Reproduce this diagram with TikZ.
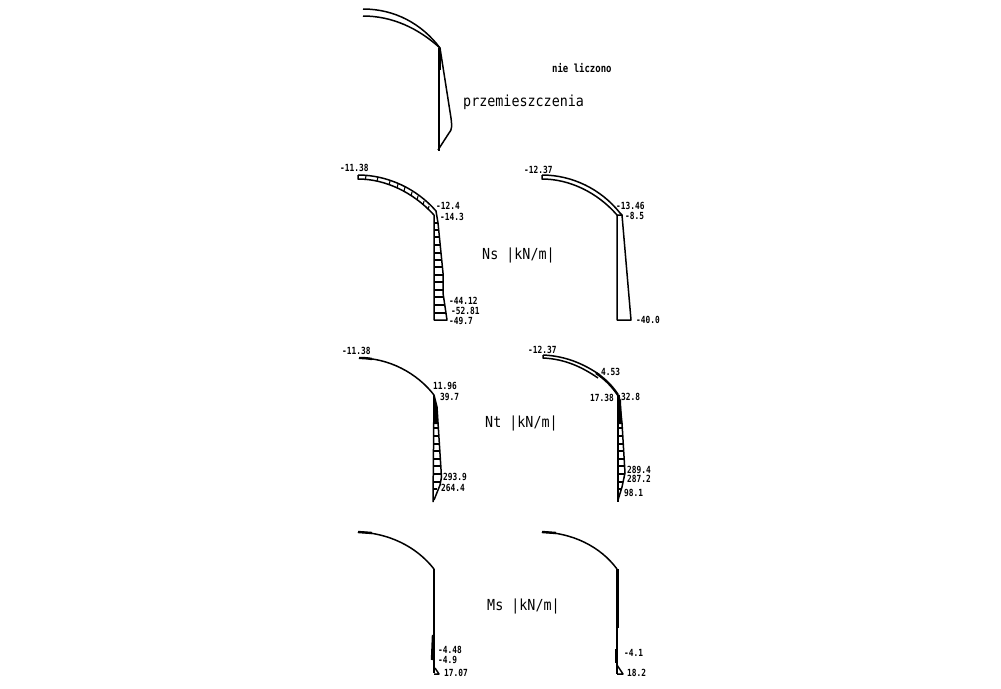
\documentclass[tikz,border=0pt]{standalone}
\usepackage{fontspec}
\newfontfamily\cad[FakeStretch=0.88]{DejaVu Sans Mono}
\newfontfamily\cadsmall[FakeStretch=0.8]{DejaVu Sans Mono Bold}
\tikzset{
  curve/.style={line width=1.5pt,black,line join=round},
  thick curve/.style={line width=2.4pt,black,line join=round},
  tickline/.style={line width=1.1pt,black},
  small/.style={anchor=west,inner sep=0pt,font=\cadsmall\fontsize{9.8}{10}\selectfont},
  big/.style={anchor=west,inner sep=0pt,font=\cad\fontsize{15.2}{17}\selectfont},
  tiny/.style={anchor=west,inner sep=0pt,font=\cadsmall\fontsize{11.2}{12}\selectfont},
}
\begin{document}
\begin{tikzpicture}[x=1pt,y=-1pt]
\useasboundingbox (0,0) rectangle (1001,688);
% displacement
\draw[curve] (363,9) .. controls (395,9) and (422,24) .. (440,48);
\draw[curve] (363,16) .. controls (392,16) and (418,28) .. (440,48);
\draw[curve] (439,48) -- (439,151);
\draw[curve] (440,48) -- (451,118) .. controls (452,126) and (452,130) .. (449,133) -- (438,150);
\draw[thick curve] (440,48) -- (440,70);
\node[big] (disp) at (463,102) {przemieszczenia};
\node[tiny] (none) at (552,68) {nie liczono};
% Ns left
\draw[curve] (358,175) .. controls (388,175) and (417,189) .. (436,211) -- (438,223) -- (443,273) -- (443,293) -- (447,320) -- (434,320) -- (434,215);
\draw[curve] (358,175) -- (358,179) .. controls (385,179) and (413,192) .. (434,215);
\foreach \y/\x in {223/438,230/439,237/440,245/441,253/441,260/442,267/443,275/443,282/443,290/443,297/444,305/445,313/446}
  \draw[tickline] (434,\y) -- (\x,\y);
\foreach \a/\b in {366/176,378/177,390/181,398/184,405/187,412/192,418/196,424/201,429/206} \draw[tickline] (\a,\b) -- ++(-1,4);
\node[small] (a1) at (340,168) {-11.38};
\node[small] (a2) at (436,206) {-12.4};
\node[small] (a3) at (440,217) {-14.3};
\node[small] (a4) at (449,301) {-44.12};
\node[small] (a5) at (451,311) {-52.81};
\node[small] (a6) at (449,321) {-49.7};
\node[big] (ns) at (482,255) {Ns |kN/m|};
% Ns right
\draw[curve] (542,175) .. controls (572,175) and (601,189) .. (620,213) -- (622,215) -- (631,320) -- (617,320) -- (617,215);
\draw[curve] (542,175) -- (542,179) .. controls (569,179) and (597,192) .. (617,215) -- (622,215);
\node[small] (b1) at (524,170) {-12.37};
\node[small] (b2) at (616,206) {-13.46};
\node[small] (b3) at (625,216) {-8.5};
\node[small] (b4) at (636,320) {-40.0};
% Nt left
\draw[thick curve] (359,358) .. controls (362,358) and (366,358) .. (372,359);
\draw[curve] (359,358) .. controls (389,358) and (417,373) .. (434,395);
\draw[curve] (434,395) -- (433,502);
\fill (434,395) -- (437,407) -- (438,424) -- (434,424) -- cycle;
\draw[curve] (434,395) -- (437,407) -- (441.5,477) -- (440,485) -- (434,500);
\foreach \y/\x in {428/438,436/439,444/440,451/440,459/441,466/441,474/441,482/440,489/437}
  \draw[tickline] (434,\y) -- (\x,\y);
\node[small] (c1) at (342,351) {-11.38};
\node[small] (c2) at (433,386) {11.96};
\node[small] (c3) at (440,397) {39.7};
\node[small] (c4) at (443,477) {293.9};
\node[small] (c5) at (441,488) {264.4};
\node[big] (nt) at (485,423) {Nt |kN/m|};
% Nt right
\draw[curve] (543,355) .. controls (566,356) and (584,364) .. (600,375);
\draw[curve] (543,355) -- (543,358) .. controls (565,359) and (582,367) .. (598,378);
\draw[thick curve] (596,373) .. controls (605,379) and (612,386) .. (618,395);
\fill (617,395) -- (621,400) -- (622,424) -- (617,424) -- cycle;
\draw[curve] (618,395) -- (618,502);
\draw[curve] (619,395) -- (622,423) -- (625,473) -- (622,487) -- (618,500);
\foreach \y/\x in {428/622,436/623,444/623,451/624,459/624,466/625,474/625,482/623,489/621}
  \draw[tickline] (618,\y) -- (\x,\y);
\node[small] (d1) at (528,350) {-12.37};
\node[small] (d2) at (601,372) {4.53};
\node[small] (d3) at (590,398) {17.38};
\node[small] (d4) at (621,397) {32.8};
\node[small] (d5) at (627,470) {289.4};
\node[small] (d6) at (627,479) {287.2};
\node[small] (d7) at (624,493) {98.1};
% Ms left
\draw[thick curve] (358,532) -- (372,533);
\draw[curve] (358,532) .. controls (388,533) and (416,546) .. (434,569);
\draw[curve] (434,569) -- (434,673);
\draw[thick curve] (433,635) -- (432,660);
\draw[curve] (435,668) -- (439,674) -- (434,674);
\node[small] (e1) at (438,650) {-4.48};
\node[small] (e2) at (438,660) {-4.9};
\node[small] (e3) at (444,673) {17.07};
\node[big] (ms) at (487,606) {Ms |kN/m|};
% Ms right
\draw[thick curve] (542,532) -- (556,533);
\draw[curve] (542,532) .. controls (572,533) and (600,546) .. (617,569);
\draw[curve] (617,569) -- (617,674);
\draw[thick curve] (618,569) -- (618,628);
\draw[thick curve] (616,649) -- (616,663);
\draw[curve] (617,665) -- (623,674) -- (617,674);
\node[small] (f1) at (624,653) {-4.1};
\node[small] (f2) at (627,673) {18.2};
\end{tikzpicture}
\end{document}
